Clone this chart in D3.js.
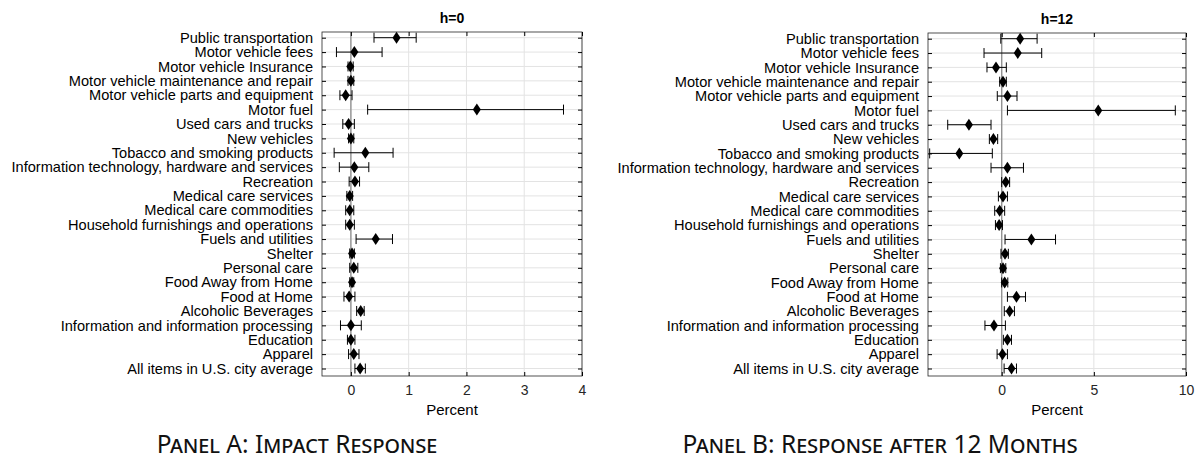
<!DOCTYPE html>
<html><head><meta charset="utf-8">
<script src="https://cdn.jsdelivr.net/npm/d3@7"></script>
<style>body{margin:0;background:#fff}</style>
</head><body><svg id="c"></svg>
<script>
const WIDTH = 1201, HEIGHT = 461;
const categories = ["Public transportation","Motor vehicle fees","Motor vehicle Insurance","Motor vehicle maintenance and repair","Motor vehicle parts and equipment ","Motor fuel","Used cars and trucks","New vehicles","Tobacco and smoking products ","Information technology, hardware and services","Recreation","Medical care services","Medical care commodities","Household furnishings and operations","Fuels and utilities","Shelter","Personal care","Food Away from Home","Food at Home","Alcoholic Beverages","Information and information processing ","Education","Apparel","All items in U.S. city average"];
const estA = [0.79,0.06,-0.01,0,-0.09,2.18,-0.04,0,0.25,0.06,0.07,-0.02,-0.02,-0.02,0.43,0.02,0.05,0.02,-0.03,0.17,0,0,0.05,0.16];
const loA  = [0.40,-0.25,-0.05,-0.05,-0.19,0.29,-0.14,-0.04,-0.29,-0.2,-0.03,-0.07,-0.09,-0.09,0.09,-0.02,-0.02,-0.02,-0.12,0.10,-0.18,-0.06,-0.04,0.07];
const hiA  = [1.13,0.54,0.04,0.05,0.02,3.68,0.06,0.05,0.73,0.31,0.15,0.03,0.05,0.06,0.72,0.06,0.12,0.05,0.07,0.23,0.18,0.07,0.14,0.25];
const estB = [1.0,0.87,-0.31,0.07,0.31,5.24,-1.78,-0.45,-2.3,0.31,0.22,0.07,-0.11,-0.14,1.61,0.18,0.07,0.16,0.8,0.43,-0.42,0.31,0.04,0.53];
const loB  = [-0.05,-0.96,-0.8,-0.11,-0.24,0.31,-2.93,-0.67,-3.91,-0.58,0,-0.18,-0.38,-0.34,0.18,-0.04,-0.07,0,0.31,0.14,-0.91,0.09,-0.25,0.13];
const hiB  = [1.92,2.17,0.25,0.25,0.83,9.42,-0.58,-0.22,-0.51,1.18,0.43,0.31,0.16,0.04,2.92,0.36,0.22,0.33,1.29,0.69,0.2,0.53,0.31,0.8];
const ticksA = [0,1,2,3,4], ticksB = [0,5,10];

const FONT = "'Liberation Sans', Arial, sans-serif";
const svg = d3.select("#c").attr("width", WIDTH).attr("height", HEIGHT);

function panel(o) {
  const g = svg.append("g");
  const x = d3.scaleLinear().domain(o.domain).range([o.left, o.right]);
  const y = d3.scalePoint().domain(categories).range([o.top + 5.7, o.bottom - 7.5]);
  g.selectAll(".vg").data(o.ticks).enter().append("line")
    .attr("x1", d => x(d)).attr("x2", d => x(d)).attr("y1", o.top).attr("y2", o.bottom)
    .attr("stroke", "#e3e3e3");
  g.selectAll(".hg").data(categories).enter().append("line")
    .attr("x1", o.left).attr("x2", o.right).attr("y1", d => y(d)).attr("y2", d => y(d))
    .attr("stroke", "#e3e3e3");
  g.append("line").attr("x1", x(0)).attr("x2", x(0)).attr("y1", o.top).attr("y2", o.bottom)
    .attr("stroke", "#8c8c8c").attr("stroke-width", 1.3);
  g.append("rect").attr("x", o.left).attr("y", o.top).attr("width", o.right - o.left).attr("height", o.bottom - o.top)
    .attr("fill", "none").attr("stroke", "#262626").attr("stroke-width", 0.8);
  g.append("g").attr("transform", `translate(0,${o.bottom})`)
    .call(d3.axisBottom(x).tickValues(o.ticks).tickSize(-4).tickPadding(9).tickFormat(d3.format("d")))
    .call(a => a.select(".domain").remove())
    .call(a => a.selectAll("text").style("font-family", FONT).style("font-size", "14px").attr("fill", "#262626"));
  g.append("g").attr("transform", `translate(0,${o.top})`)
    .call(d3.axisTop(x).tickValues(o.ticks).tickSize(-4).tickFormat(""))
    .call(a => a.select(".domain").remove());
  g.append("g").attr("transform", `translate(${o.left},0)`)
    .call(d3.axisLeft(y).tickSize(-4).tickPadding(9))
    .call(a => a.select(".domain").remove())
    .call(a => a.selectAll("text").style("font-family", FONT).style("font-size", "14.6px").attr("fill", "#000"));
  g.append("g").attr("transform", `translate(${o.right},0)`)
    .call(d3.axisRight(y).tickSize(-4).tickFormat(""))
    .call(a => a.select(".domain").remove());
  const rows = categories.map((c, i) => ({c, e: o.est[i], lo: o.lo[i], hi: o.hi[i]}));
  const eb = g.selectAll(".eb").data(rows).enter().append("g").attr("stroke", "#000").attr("stroke-width", 1);
  eb.append("line").attr("x1", d => x(d.lo)).attr("x2", d => x(d.hi)).attr("y1", d => y(d.c)).attr("y2", d => y(d.c));
  eb.append("line").attr("x1", d => x(d.lo)).attr("x2", d => x(d.lo)).attr("y1", d => y(d.c) - 5).attr("y2", d => y(d.c) + 5);
  eb.append("line").attr("x1", d => x(d.hi)).attr("x2", d => x(d.hi)).attr("y1", d => y(d.c) - 5).attr("y2", d => y(d.c) + 5);
  g.selectAll(".pt").data(rows).enter().append("path")
    .attr("d", "M0,-6L4,0L0,6L-4,0Z")
    .attr("transform", d => `translate(${x(d.e)},${y(d.c)})`).attr("fill", "#000");
  g.append("text").attr("x", (o.left + o.right) / 2).attr("y", o.top - 9).attr("text-anchor", "middle")
    .style("font-family", FONT).attr("font-weight", "bold").style("font-size", "14px").text(o.title);
  g.append("text").attr("x", (o.left + o.right) / 2).attr("y", o.bottom + 39).attr("text-anchor", "middle")
    .style("font-family", FONT).style("font-size", "15px").text("Percent");
  g.append("text").attr("x", o.capX).attr("y", 453).attr("text-anchor", "middle")
    .style("font-family", "'Noto Sans', 'DejaVu Sans'").style("font-size", "24.5px").style("font-variant", "small-caps")
    .attr("fill", "#111").text(o.caption);
}

panel({domain: [-0.5, 4], left: 322, right: 582, top: 32, bottom: 376, ticks: ticksA,
  est: estA, lo: loA, hi: hiA, title: "h=0", caption: "Panel A: Impact Response", capX: 297});
panel({domain: [-4, 10], left: 928, right: 1186, top: 33, bottom: 376, ticks: ticksB,
  est: estB, lo: loB, hi: hiB, title: "h=12", caption: "Panel B: Response after 12 Months", capX: 880});
</script></body></html>
